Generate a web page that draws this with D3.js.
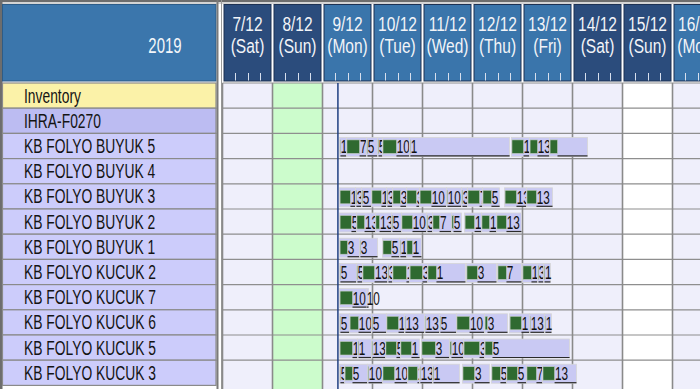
<!DOCTYPE html>
<html>
<head>
<meta charset="utf-8">
<script src="https://cdn.jsdelivr.net/npm/d3@7"></script>
<style>
  body { margin: 0; background: #fff; }
  svg { display: block; font-family: 'Liberation Sans', Arial, sans-serif; }
</style>
</head>
<body>
<div id="chart"></div>
<script>
// Header categories
const yearLabel = '2019';
const dayLabels = ['7/12', '8/12', '9/12', '10/12', '11/12', '12/12', '13/12', '14/12', '15/12', '16/12'];
const weekdayLabels = ['(Sat)', '(Sun)', '(Mon)', '(Tue)', '(Wed)', '(Thu)', '(Fri)', '(Sat)', '(Sun)', '(Mon)'];
const dayKinds = ['normal', 'holiday', 'normal', 'normal', 'normal', 'normal', 'normal', 'normal', 'blank', 'normal'];

// Resources (rows)
const rowNames = ['Inventory', 'IHRA-F0270', 'KB FOLYO BUYUK 5', 'KB FOLYO BUYUK 4', 'KB FOLYO BUYUK 3',
    'KB FOLYO BUYUK 2', 'KB FOLYO BUYUK 1', 'KB FOLYO KUCUK 2', 'KB FOLYO KUCUK 7', 'KB FOLYO KUCUK 6',
    'KB FOLYO KUCUK 5', 'KB FOLYO KUCUK 3'];
const rowKinds = ['inventory', 'group', 'machine', 'machine', 'machine', 'machine', 'machine', 'machine',
    'machine', 'machine', 'machine', 'machine'];

// current time, hours after 9/12 00:00
const nowHour = 7.4;

// jobs: [start, end of setup, end, label] in hours after 9/12 00:00
const buyuk5Jobs = [[8.2, 8.6, 11.5, '1'], [11.5, 17.8, 21.1, '7'], [21.1, 21.6, 26.4, '5'], [26.4, 26.9, 28.8, '5'],
    [28.8, 35.5, 41.8, '10'], [41.8, 42.2, 89.8, '1'], [90.7, 96.5, 99.4, '1'], [99.4, 103.2, 109.0, '13'],
    [109.0, 112.8, 127.2, '']];
const buyuk4Jobs = [];
const buyuk3Jobs = [[8.2, 13.4, 15.8, '1'], [15.8, 16.3, 18.7, '3'], [18.7, 19.2, 23.5, '5'], [23.5, 28.3, 30.7, '1'],
    [30.7, 31.2, 33.6, '3'], [33.6, 37.4, 40.3, '3'], [40.3, 45.1, 46.6, '3'], [46.6, 52.3, 59.5, '10'],
    [59.5, 60.0, 66.7, '10'], [66.7, 67.2, 69.6, '3'], [69.6, 75.4, 76.8, '7'], [76.8, 81.1, 85.0, '5'],
    [87.4, 93.1, 97.9, '13'], [97.9, 102.7, 110.4, '13']];
const buyuk2Jobs = [[8.2, 13.9, 16.3, '5'], [16.3, 20.2, 25.4, '13'], [25.4, 27.4, 33.1, '13'], [33.1, 33.6, 37.9, '5'],
    [37.9, 43.2, 49.9, '10'], [49.9, 50.4, 52.8, '3'], [52.8, 56.2, 61.9, '7'], [61.9, 62.9, 66.7, '5'],
    [68.2, 73.0, 76.3, '1'], [76.3, 80.2, 83.5, '1'], [83.5, 88.3, 95.5, '13']];
const buyuk1Jobs = [[8.2, 12.0, 17.8, '3'], [17.8, 18.2, 26.4, '3'], [28.8, 33.1, 37.0, '5'], [37.0, 37.4, 40.3, '1'],
    [40.3, 43.2, 47.5, '1']];
const kucuk2Jobs = [[8.2, 8.6, 16.3, '5'], [16.3, 16.8, 19.2, '5'], [19.2, 25.0, 31.2, '13'], [31.2, 31.7, 33.6, '3'],
    [33.6, 40.3, 41.8, '1'], [41.8, 48.0, 50.4, '3'], [50.4, 54.7, 68.6, '1'], [69.1, 74.4, 83.5, '3'],
    [84.0, 88.3, 95.5, '7'], [96.0, 100.3, 103.2, '1'], [103.2, 103.7, 106.1, '3'], [106.1, 106.6, 109.4, '1']];
const kucuk7Jobs = [[8.2, 14.4, 21.1, '10'], [21.1, 21.1, 22.1, '10']];
const kucuk6Jobs = [[8.2, 8.6, 13.0, '5'], [13.0, 17.3, 23.5, '10'], [23.5, 24.0, 30.7, '5'], [30.7, 36.5, 39.4, '13'],
    [39.4, 39.8, 49.0, '13'], [49.0, 49.4, 56.2, '13'], [56.2, 56.6, 64.3, '5'], [64.3, 70.6, 77.8, '10'],
    [77.8, 79.2, 88.8, '3'], [89.8, 95.5, 99.4, '1'], [99.4, 99.8, 106.6, '13'], [106.6, 107.0, 109.9, '1']];
const kucuk5Jobs = [[8.2, 14.4, 16.8, '10'], [16.8, 17.3, 23.5, '1'], [23.5, 24.0, 30.2, '13'], [30.2, 35.5, 37.4, '5'],
    [37.4, 42.7, 46.6, '1'], [47.5, 54.2, 61.0, '3'], [61.0, 61.9, 67.7, '10'], [67.7, 75.4, 77.8, '3'],
    [77.8, 81.6, 118.6, '5']];
const kucuk3Jobs = [[8.2, 8.6, 10.6, '5'], [10.6, 14.4, 21.6, '5'], [21.6, 22.1, 28.8, '10'], [28.8, 34.6, 40.8, '10'],
    [40.8, 45.6, 46.6, '1'], [46.6, 47.0, 52.8, '13'], [52.8, 53.3, 65.8, '1'], [67.2, 73.0, 80.2, '3'],
    [81.1, 85.4, 88.3, '5'], [88.3, 93.6, 97.9, '5'], [97.9, 102.7, 105.6, '7'], [105.6, 111.4, 121.9, '13']];

const jobsByRow = {
    'KB FOLYO BUYUK 5': buyuk5Jobs,
    'KB FOLYO BUYUK 4': buyuk4Jobs,
    'KB FOLYO BUYUK 3': buyuk3Jobs,
    'KB FOLYO BUYUK 2': buyuk2Jobs,
    'KB FOLYO BUYUK 1': buyuk1Jobs,
    'KB FOLYO KUCUK 2': kucuk2Jobs,
    'KB FOLYO KUCUK 7': kucuk7Jobs,
    'KB FOLYO KUCUK 6': kucuk6Jobs,
    'KB FOLYO KUCUK 5': kucuk5Jobs,
    'KB FOLYO KUCUK 3': kucuk3Jobs
};

class GanttChart {
    constructor(_config) {
        this.config = {
            parentElement: _config.parentElement,
            containerWidth: 700,
            containerHeight: 389,
            leftWidth: 216,
            bodyLeft: 222.5,
            dayWidth: 50,
            headerTop: 4.5,
            headerBottom: 81,
            rowTop: 83,
            rowHeight: 25.2
        };
        this.initVis();
    }

    initVis() {
        let vis = this;
        const c = vis.config;

        vis.svg = d3.select(c.parentElement).append('svg')
            .attr('width', c.containerWidth)
            .attr('height', c.containerHeight);

        vis.firstDay = new Date(2019, 11, 7);
        vis.baseDay = new Date(2019, 11, 9);
        vis.days = dayLabels.map((d, i) => d3.timeDay.offset(vis.firstDay, i));

        vis.x = d3.scaleTime()
            .domain([vis.firstDay, d3.timeDay.offset(vis.firstDay, dayLabels.length)])
            .range([c.bodyLeft, c.bodyLeft + c.dayWidth * dayLabels.length]);

        vis.y = d3.scaleBand()
            .domain(rowNames)
            .range([c.rowTop, c.rowTop + c.rowHeight * rowNames.length])
            .padding(0);

        vis.renderVis();
    }

    hourToDate(h) {
        return new Date(this.baseDay.getTime() + h * 3600e3);
    }

    renderVis() {
        let vis = this;
        const c = vis.config;
        const x = vis.x, y = vis.y;

        // top frame
        vis.svg.append('rect').attr('x', 0).attr('y', 0).attr('width', c.containerWidth).attr('height', 4)
            .attr('fill', '#d4d4d4');
        vis.svg.append('rect').attr('x', 0).attr('y', 0).attr('width', c.containerWidth).attr('height', 2)
            .attr('fill', '#6d6d6d');
        vis.svg.append('rect').attr('x', 0).attr('y', 0).attr('width', 2.5).attr('height', c.containerHeight)
            .attr('fill', '#6d6d6d');

        // left header
        vis.svg.append('rect')
            .attr('x', 2.5).attr('y', c.headerTop)
            .attr('width', c.leftWidth - 2.5).attr('height', c.headerBottom - c.headerTop)
            .attr('fill', '#3b76ac').attr('stroke', '#2d5c88');
        vis.svg.append('text')
            .attr('transform', `translate(165,53) scale(0.68,1)`)
            .attr('text-anchor', 'middle')
            .attr('font-size', 22)
            .attr('fill', '#f4f6fa')
            .text(yearLabel);

        // left row labels
        const rowFill = { inventory: '#fbf2a8', group: '#bcbcf2', machine: '#ccccfb' };
        const rows = vis.svg.append('g').selectAll('.row-label')
            .data(rowNames)
            .join('g')
            .attr('class', 'row-label');
        rows.append('rect')
            .attr('x', 2.5).attr('y', d => y(d))
            .attr('width', c.leftWidth - 2.5).attr('height', y.bandwidth())
            .attr('fill', (d, i) => rowFill[rowKinds[i]])
            .attr('stroke', '#8a8a8a').attr('stroke-width', 1.2);
        rows.append('text')
            .attr('transform', d => `translate(24,${y(d) + 19.5}) scale(0.71,1)`)
            .attr('font-size', 19.5)
            .attr('fill', '#141414')
            .text(d => d);

        // separator between panels
        vis.svg.append('line').attr('x1', 217.5).attr('x2', 217.5).attr('y1', 0).attr('y2', c.containerHeight)
            .attr('stroke', '#7a7a7a').attr('stroke-width', 2);
        vis.svg.append('line').attr('x1', 221.5).attr('x2', 221.5).attr('y1', 0).attr('y2', c.containerHeight)
            .attr('stroke', '#9a9a9a').attr('stroke-width', 1);

        // day header boxes
        const isWeekend = i => weekdayLabels[i] === '(Sat)' || weekdayLabels[i] === '(Sun)';
        const mid = d => (x(d) + x(d3.timeDay.offset(d, 1))) / 2;
        const head = vis.svg.append('g').selectAll('.day-head')
            .data(vis.days)
            .join('g')
            .attr('class', 'day-head');
        head.append('rect')
            .attr('x', d => x(d) + 1.5)
            .attr('y', c.headerTop)
            .attr('width', d => x(d3.timeDay.offset(d, 1)) - x(d) - 3)
            .attr('height', c.headerBottom - c.headerTop)
            .attr('fill', (d, i) => isWeekend(i) ? '#2b4c7c' : '#3a75ab')
            .attr('stroke', '#1d3152').attr('stroke-width', 1);
        head.append('text')
            .attr('transform', d => `translate(${mid(d)},30.5) scale(0.74,1)`)
            .attr('text-anchor', 'middle')
            .attr('font-size', 21)
            .attr('fill', '#f2f4f8')
            .text((d, i) => dayLabels[i]);
        head.append('text')
            .attr('transform', d => `translate(${mid(d)},52.5) scale(0.74,1)`)
            .attr('text-anchor', 'middle')
            .attr('font-size', 21)
            .attr('fill', '#f2f4f8')
            .text((d, i) => weekdayLabels[i]);

        // 6-hour ticks in header
        const ticks = x.ticks(d3.timeHour.every(6)).filter(t => t.getHours() !== 0);
        vis.svg.append('g').selectAll('.hour-tick')
            .data(ticks)
            .join('line')
            .attr('class', 'hour-tick')
            .attr('x1', d => Math.round(x(d)) + 0.5).attr('x2', d => Math.round(x(d)) + 0.5)
            .attr('y1', 73).attr('y2', 80.5)
            .attr('stroke', '#d8e0ee').attr('stroke-width', 1);

        // body cells
        const cellFill = { normal: '#efeffb', holiday: '#ccfccc', blank: '#ffffff' };
        vis.svg.append('g').selectAll('.day-col')
            .data(vis.days)
            .join('rect')
            .attr('class', 'day-col')
            .attr('x', d => x(d))
            .attr('y', c.rowTop)
            .attr('width', c.dayWidth)
            .attr('height', c.containerHeight - c.rowTop)
            .attr('fill', (d, i) => cellFill[dayKinds[i]]);

        // grid
        vis.svg.append('g').selectAll('.row-line')
            .data(rowNames)
            .join('line')
            .attr('class', 'row-line')
            .attr('x1', c.bodyLeft).attr('x2', c.containerWidth)
            .attr('y1', d => y(d)).attr('y2', d => y(d))
            .attr('stroke', '#8e8e8e').attr('stroke-width', 1.2);
        vis.svg.append('g').selectAll('.day-line')
            .data(vis.days)
            .join('line')
            .attr('class', 'day-line')
            .attr('x1', d => x(d)).attr('x2', d => x(d))
            .attr('y1', c.rowTop).attr('y2', c.containerHeight)
            .attr('stroke', '#8a8a8a').attr('stroke-width', 1.6);

        // current time line
        vis.svg.append('line')
            .attr('x1', x(vis.hourToDate(nowHour))).attr('x2', x(vis.hourToDate(nowHour)))
            .attr('y1', c.rowTop).attr('y2', c.containerHeight)
            .attr('stroke', '#1f3f80').attr('stroke-width', 1.5);

        // jobs
        const jobs = [];
        Object.keys(jobsByRow).forEach(r => {
            jobsByRow[r].forEach(j => jobs.push({ row: r, s: j[0], g: j[1], e: j[2], label: j[3] }));
        });

        const job = vis.svg.append('g').selectAll('.job')
            .data(jobs)
            .join('g')
            .attr('class', 'job');
        job.append('rect')
            .attr('x', d => x(vis.hourToDate(d.s)))
            .attr('y', d => y(d.row) + 4)
            .attr('width', d => x(vis.hourToDate(d.e)) - x(vis.hourToDate(d.s)))
            .attr('height', 19)
            .attr('fill', '#c9c9f3')
            .attr('stroke', '#d6d6d6').attr('stroke-width', 0.8);
        job.append('rect')
            .attr('x', d => x(vis.hourToDate(d.s)) + 0.5)
            .attr('y', d => y(d.row) + 6.5)
            .attr('width', d => Math.max(0, x(vis.hourToDate(d.g)) - x(vis.hourToDate(d.s)) - 0.5))
            .attr('height', 13.5)
            .attr('fill', '#2f6a30')
            .attr('stroke', '#c4cec4').attr('stroke-width', 0.6);
        job.append('line')
            .attr('x1', d => x(vis.hourToDate(d.g)))
            .attr('x2', d => x(vis.hourToDate(d.e)))
            .attr('y1', d => y(d.row) + 22.5).attr('y2', d => y(d.row) + 22.5)
            .attr('stroke', '#2a2a2a').attr('stroke-width', 1.2);
        job.append('text')
            .attr('transform', d => `translate(${x(vis.hourToDate(d.g)) + 0.3},${y(d.row) + 20}) scale(0.62,1)`)
            .attr('font-size', 19)
            .attr('fill', '#111')
            .text(d => d.label);
    }
}

new GanttChart({ parentElement: '#chart' });
</script>
</body>
</html>
